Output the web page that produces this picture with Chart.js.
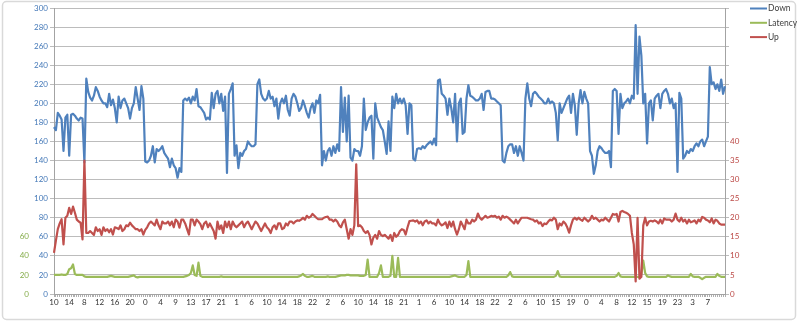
<!DOCTYPE html>
<html>
<head>
<meta charset="utf-8">
<script src="https://cdn.jsdelivr.net/npm/chart.js@4.4.0/dist/chart.umd.min.js"></script>
<style>
  html, body { margin: 0; padding: 0; background: #fff; }
  #wrap { position: relative; width: 800px; height: 324px; }
</style>
</head>
<body>
<div id="wrap"><canvas id="speed"></canvas></div>
<script>
// hour shown under every 8th sample
const hourTicks = ["10","14","8","12","16","20","0","4","9","13","17","21","1","6","10","14","18","22",
  "2","6","10","14","18","21","1","6","10","14","18","22","2","6","10","15","19","0","4","8","12",
  "15","19","23","3","7"];

// download, Mbit/s
const down = [
  175,172,190,187,183,150,185,188,145,188,
  189,187,184,182,185,184,138,226,212,206,
  203,208,217,213,207,203,200,200,196,210,
  198,204,195,180,207,195,203,205,200,195,
  184,195,200,217,205,193,218,205,139,138,
  140,145,155,138,152,150,152,155,148,145,
  142,133,142,135,132,122,132,128,203,205,
  203,206,200,207,203,215,197,196,193,190,
  183,185,183,211,195,210,213,200,210,192,
  207,127,210,215,221,145,156,132,148,145,
  150,152,160,157,155,155,157,220,225,210,
  205,203,205,213,205,207,197,205,184,200,
  205,200,208,193,187,205,210,207,200,192,
  195,203,197,190,185,195,200,190,203,200,
  209,135,150,140,150,153,145,155,148,157,
  150,217,170,206,160,208,143,140,152,150,
  150,145,155,205,172,180,185,187,142,200,
  185,180,175,172,160,147,181,150,207,195,
  210,200,205,200,205,198,168,200,198,142,
  140,152,153,152,155,153,156,158,160,157,
  163,156,224,225,210,208,205,188,205,195,
  180,210,160,200,205,168,170,205,219,208,
  207,205,203,203,205,210,193,212,213,213,
  205,205,204,202,200,198,140,138,148,155,
  157,157,148,155,145,155,148,140,205,221,
  205,197,210,212,210,207,205,203,200,200,
  205,200,202,200,190,161,200,190,195,200,
  205,208,190,210,198,167,200,214,200,212,
  205,200,150,145,126,135,150,155,153,150,
  148,148,150,133,213,215,213,168,210,195,
  200,202,205,200,208,205,282,210,270,250,
  200,210,158,200,203,182,205,208,210,195,
  210,213,215,210,200,205,195,200,128,211,
  205,142,145,150,148,152,150,155,158,155,
  160,162,155,160,165,238,220,222,215,220,
  213,225,210,218
];

// ping, ms
const latency = [
  20,20,20,20,20.5,20,20,21,26,27,
  31,21,20,20,20,20,18.5,18,18,18,
  18,18,18,18,18,18,18,18,18,18.5,
  19,18.5,18,18,18,18,18,18,18,18,
  18.5,19,19.5,18,17.5,18,18,18,18,18,
  18,18,18,18,18,18,18,18,18,18,
  18,18,18,18,18,18,18,18,18,18.5,
  19,20,22,30,20,19,33,19,18,18,
  18,18,18,18,18,18,18,18,18.5,18,
  18,18,18,18,18,18,18,18,18,18,
  18,18,18,18,18,18,18,18,18,18,
  18,18,18,18,18,18,18,18,18,18,
  18,18,18,18,18,18,18,18,18,18.5,
  19.5,21,19,18,18,18.5,19,18,18,18,
  18,18,18,18,18.5,18,18,18,18,18.5,
  19,19.5,19.5,19.5,20,20,19.5,19.5,19.5,19.5,
  19.5,19,19,19,20,36,18,18,18,18,
  18,22,30,18,18,18,18,19,40,18,
  18,38,18,18,18,18,18,18,18,18,
  18,18,18,18,18,18,18,18,18,18,
  18,18,18,18,18,18,18,18,18,18.5,
  19,19.5,18.5,18,18,18,18,20,34.5,18,
  18,18,18,18,18,18,18,18,18,18,
  18,18,18,18,18,18,18,18,18,19.5,
  23,18.5,18,18,18,18,18,18,18,18,
  18,18,18,18,18,18,18,18,18,18,
  18,18,18,18,19,24,18.5,18,18,18,
  18,18,18,18,18,18,18,18,18,18,
  18,18,18,18,18,18,18,18,18,18,
  18,18,18,18,18,18,19,22,18.5,18,
  18,18,18,18,18,18,18,18,18,21,
  35,22,18.5,18,18,18,18,18,18,18,
  18,18,18,19.5,18.5,18,18,18,18,18,
  18,18,18,18,18,21,18.5,18,18,18,
  17,15.5,17,18,18,18,18,18,18,21,
  19,18,18,18
];

// upload, Mbit/s (right axis)
const up = [
  10.8,14,17,18.5,19.6,13,20,20.5,22.6,21,
  22.9,21.3,19.5,19,18.7,14.3,35,16,16,16.5,
  16,15.5,17.5,16.5,17,15.5,17.5,16.5,17,16.2,
  17,15.6,17.5,17.3,17,18,16.5,17,18,17.8,
  18.7,18,17.5,17,17,16.5,17,15.6,16.8,17.5,
  18.5,19,18.5,18,19.5,18,17,19,18.5,18.5,
  19,18,19,17.5,19.5,19,17.4,19.5,19.5,18.5,
  17,15.6,19.5,19.5,18,19.5,19,18.3,17,18.5,
  19,17.5,18.5,17.5,16.5,14.5,19,17,18,16,
  19,17.5,19,17,19,18,17.5,18,18.5,19,
  17.5,18.5,19,18,17,18,19,18.5,17.5,16.5,
  17.5,18.5,17.5,17,16,17.5,18,17,18.5,18.5,
  17,17.3,18.5,18,19,19,18.5,19,19.3,19.2,
  19.5,20,19.5,20.5,20,20.3,21,20.5,20,19.6,
  19.6,19.6,20,20.2,20.3,19.5,19.5,19,19.5,19,
  18,17.5,18.8,19.5,17,14.5,17,15.5,18,34,
  17.8,18,17.5,16.5,16,16.5,15.5,13,14.8,15.5,
  14.5,16.5,15.5,15.2,15.5,15,14.5,15.5,13.9,16,
  15,15.5,16.5,17,16.8,15.6,17.5,19.1,19.2,19.3,
  19,19.3,18.5,19,18,19,19.3,18.5,19,18.5,
  18.5,18,19.5,18.5,18,18.3,18.8,17.3,19,17.7,
  19,17,15.6,17,19,18,17,19.5,18.5,18.5,
  19.5,19,19.5,21.1,20,19.5,20,20.5,20,20.2,
  20.5,20.3,20.5,20,20.3,19.5,20.5,20,20.3,20,
  19.5,19,18.5,19.5,18.5,19.3,20,20,20,20,
  19.8,19.6,19.5,19,19.3,18.5,18.8,17.8,18.5,18.3,
  19,19.5,19.3,20,19.5,17,18.5,18,19,18.5,
  17.5,16.1,18,19.5,20,19.5,20,19.5,19.2,20,
  19.5,19,19.5,20.5,19.7,20,19.5,19,19.5,19.3,
  20,19.5,19,20,21,20.8,21,19,21.5,21.8,
  21.5,21.3,21,20.5,16,13,3.3,20,4,4.5,
  18,20,18,19,19.2,19,19.3,19,18.5,19.5,
  18.5,19.8,19.5,19.5,19.5,19,19.5,21.1,19.5,19,
  20,19,19.5,18.5,19.5,18.8,19,19.3,18.5,19.5,
  19,20.2,20,19.5,19.3,18.8,19.8,18.5,19.5,19.2,
  18.5,18.2,18.2,18.2
];

const labels = down.map((_, i) => (i % 8 === 0 ? hourTicks[i / 8] ?? "" : ""));

const BLUE = "#4f81bd";
const GREEN = "#9bbb59";
const RED = "#c0504d";
const GRID = "#bcbcbc";
const AXIS = "#a3a3a3";
const tickFont = { family: "Lato", size: 8 };

Chart.defaults.font.family = "Lato";

// white card with a thin grey rounded border
const frame = {
  id: "frame",
  beforeDraw(chart) {
    const c = chart.ctx;
    c.save();
    c.fillStyle = "#fff";
    c.fillRect(0, 0, chart.width, chart.height);
    c.strokeStyle = "#d9d9d9";
    c.lineWidth = 1.5;
    c.beginPath();
    c.roundRect(2.5, 1.5, 793, 318, 4);
    c.stroke();
    c.restore();
  },
};

// legend: short line + name, stacked in the top right corner
const sideLegend = {
  id: "sideLegend",
  afterDraw(chart) {
    const c = chart.ctx;
    c.save();
    c.font = "8.5px Lato";
    c.textBaseline = "middle";
    chart.data.datasets.forEach((ds, k) => {
      const y = 8.5 + k * 14.3;
      c.strokeStyle = ds.borderColor;
      c.lineWidth = 2;
      c.beginPath();
      c.moveTo(750, y);
      c.lineTo(767, y);
      c.stroke();
      c.fillStyle = "#404040";
      c.fillText(ds.label, 768, y);
    });
    c.restore();
  },
};

const line = (label, data, color, axis, order) => ({
  label,
  data,
  yAxisID: axis,
  borderColor: color,
  backgroundColor: color,
  borderWidth: 2.2,
  borderJoinStyle: "round",
  pointRadius: 0,
  tension: 0,
  order,
});

new Chart(document.getElementById("speed"), {
  type: "line",
  data: {
    labels,
    datasets: [
      line("Down", down, BLUE, "y", 2),
      line("Latency", latency, GREEN, "yLat", 1),
      line("Up", up, RED, "y2", 0),
    ],
  },
  options: {
    responsive: true,
    maintainAspectRatio: false,
    animation: false,
    layout: { padding: { top: 8, right: 51, bottom: 8, left: 0 } },
    plugins: { legend: { display: false }, tooltip: { enabled: false } },
    scales: {
      x: {
        ticks: { autoSkip: false, maxRotation: 0, minRotation: 0, padding: 1, color: "#333333", font: tickFont },
        grid: { drawOnChartArea: false, tickLength: 3, color: "#b0b0b0" },
        border: { color: AXIS },
        afterFit: (s) => { s.height = 22; },
      },
      y: {
        position: "left",
        weight: 0,
        min: 0,
        max: 300,
        ticks: { stepSize: 20, padding: 2, color: "#4579b8", font: tickFont },
        grid: { color: GRID, tickLength: 4 },
        border: { color: AXIS },
        afterFit: (s) => { s.width = 23; },
      },
      yLat: {
        position: "left",
        weight: 1,
        min: 0,
        max: 300,
        ticks: { stepSize: 20, padding: 2, color: "#86ad4c", font: tickFont,
          callback: (v) => (v <= 60 ? v : "") },
        grid: { display: false, drawTicks: false },
        border: { display: false },
        afterFit: (s) => { s.width = 31; },
      },
      y2: {
        position: "right",
        min: 0,
        max: 75,
        ticks: { stepSize: 5, padding: 1, color: "#bb4744", font: tickFont,
          callback: (v) => (v <= 40 ? v : "") },
        grid: { drawOnChartArea: false, tickLength: 4, color: GRID },
        border: { color: AXIS },
        afterFit: (s) => { s.width = 24; },
      },
    },
  },
  plugins: [frame, sideLegend],
});
</script>
</body>
</html>
